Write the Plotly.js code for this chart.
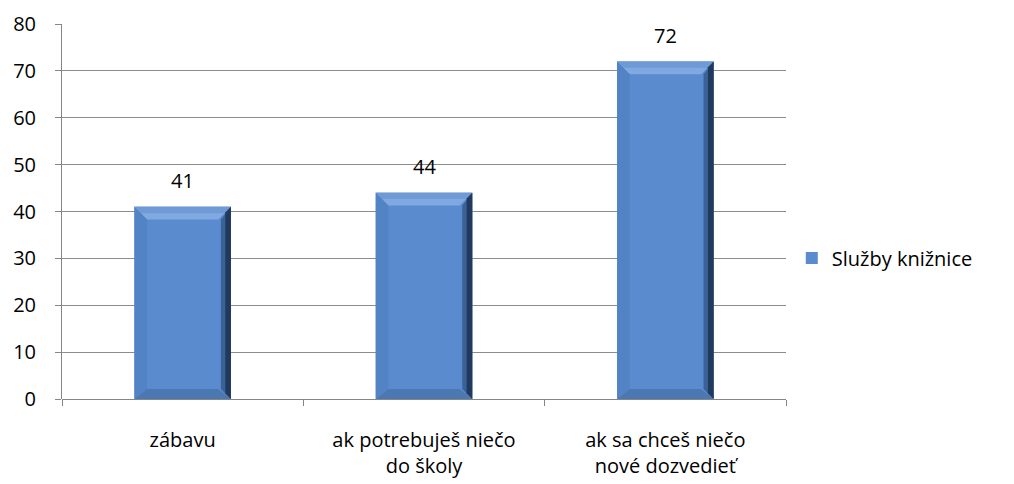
<!DOCTYPE html>
<html><head><meta charset="utf-8">
<script src="https://cdn.plot.ly/plotly-3.0.1.min.js"></script>
<style>html,body{margin:0;padding:0;background:#fff;}#chart{width:1014px;height:484px;}</style>
</head><body><div id="chart"></div>
<script>
const categories = ['zábavu', 'ak potrebuješ niečo<br>do školy', 'ak sa chceš niečo<br>nové dozvedieť'];
const values = [41, 44, 72];
const seriesName = 'Služby knižnice';
const yTicks = [0, 10, 20, 30, 40, 50, 60, 70, 80];

const FONT = '"Open Sans", Lato, sans-serif';
const FS = 20;
const barW = 0.4;
const bx = 0.052;   // bevel width in category units
const by = 2.7;     // bevel height in y units

const shapes = [];
values.forEach((v, i) => {
  const x0 = i - barW / 2, x1 = i + barW / 2, y0 = 0, y1 = v;
  const add = (path, color) => shapes.push({type: 'path', xref: 'x', yref: 'y', path, fillcolor: color, line: {width: 0}, layer: 'above'});
  // top bevel
  add(`M${x0},${y1} L${x1},${y1} L${x1 - bx},${y1 - by} L${x0 + bx},${y1 - by} Z`, '#80A9E1');
  add(`M${x0},${y1} L${x1},${y1} L${x1 - bx * 0.5},${y1 - by * 0.5} L${x0 + bx * 0.5},${y1 - by * 0.5} Z`, '#6F9AD6');
  // bottom bevel
  add(`M${x0},${y0} L${x1},${y0} L${x1 - bx},${y0 + by * 0.8} L${x0 + bx},${y0 + by * 0.8} Z`, '#4C78B2');
  // left bevel
  add(`M${x0},${y0} L${x0},${y1} L${x0 + bx},${y1 - by} L${x0 + bx},${y0 + by * 0.8} Z`, '#5283C4');
  // right bevel
  add(`M${x1},${y0} L${x1},${y1} L${x1 - bx * 0.8},${y1 - by} L${x1 - bx * 0.8},${y0 + by * 0.8} Z`, '#3A6296');
  // dark outer right strip
  add(`M${x1},${y0} L${x1},${y1} L${x1 - bx * 0.45},${y1 - by * 0.45} L${x1 - bx * 0.45},${y0 + by * 0.45} Z`, '#21395C');
});

const annotations = values.map((v, i) => ({
  x: i, y: v, xref: 'x', yref: 'y', text: String(v), showarrow: false,
  yshift: 26, font: {family: FONT, size: FS, color: '#000'}
}));

const trace = {
  type: 'bar', x: [0, 1, 2], y: values, name: seriesName, width: barW,
  marker: {color: '#5A8BCF', line: {width: 0}},
  hoverinfo: 'skip'
};

const layout = {
  width: 1014, height: 484,
  margin: {l: 62, r: 228, t: 24, b: 85},
  paper_bgcolor: '#fff', plot_bgcolor: '#fff',
  font: {family: FONT, size: FS, color: '#000'},
  showlegend: true,
  legend: {x: 1.008, y: 0.376, xanchor: 'left', yanchor: 'middle', font: {family: FONT, size: FS, color: '#000'}, itemwidth: 30, traceorder: 'normal'},
  xaxis: {
    type: 'linear', range: [-0.5, 2.5],
    tickmode: 'array', tickvals: [0, 1, 2], ticktext: categories,
    showgrid: false, zeroline: false,
    showline: false, ticks: '', tickfont: {family: FONT, size: FS, color: '#000'},
    ticklabelstandoff: 27
  },
  xaxis2: {
    overlaying: 'x', range: [-0.5, 2.5], tickmode: 'array', tickvals: [-0.5, 0.5, 1.5, 2.5],
    showticklabels: false, ticks: 'outside', ticklen: 6, tickcolor: '#868686', tickwidth: 1,
    showgrid: false, zeroline: false, showline: false, side: 'bottom', anchor: 'y'
  },
  yaxis: {
    range: [0, 80], tickmode: 'array', tickvals: yTicks,
    showgrid: true, gridcolor: '#8C8C8C', gridwidth: 1,
    showline: true, linecolor: '#868686', linewidth: 1,
    ticks: 'outside', ticklen: 6, tickcolor: '#868686',
    zeroline: true, zerolinecolor: '#868686', zerolinewidth: 1,
    tickfont: {family: FONT, size: FS, color: '#000'},
    ticklabelstandoff: 15
  },
  shapes, annotations
};

const tickTrace = {type: 'scatter', x: [-0.5, 2.5], y: [0, 0], xaxis: 'x2', mode: 'lines', line: {width: 0}, showlegend: false, hoverinfo: 'skip'};

Plotly.newPlot('chart', [trace, tickTrace], layout, {staticPlot: true});
</script></body></html>
